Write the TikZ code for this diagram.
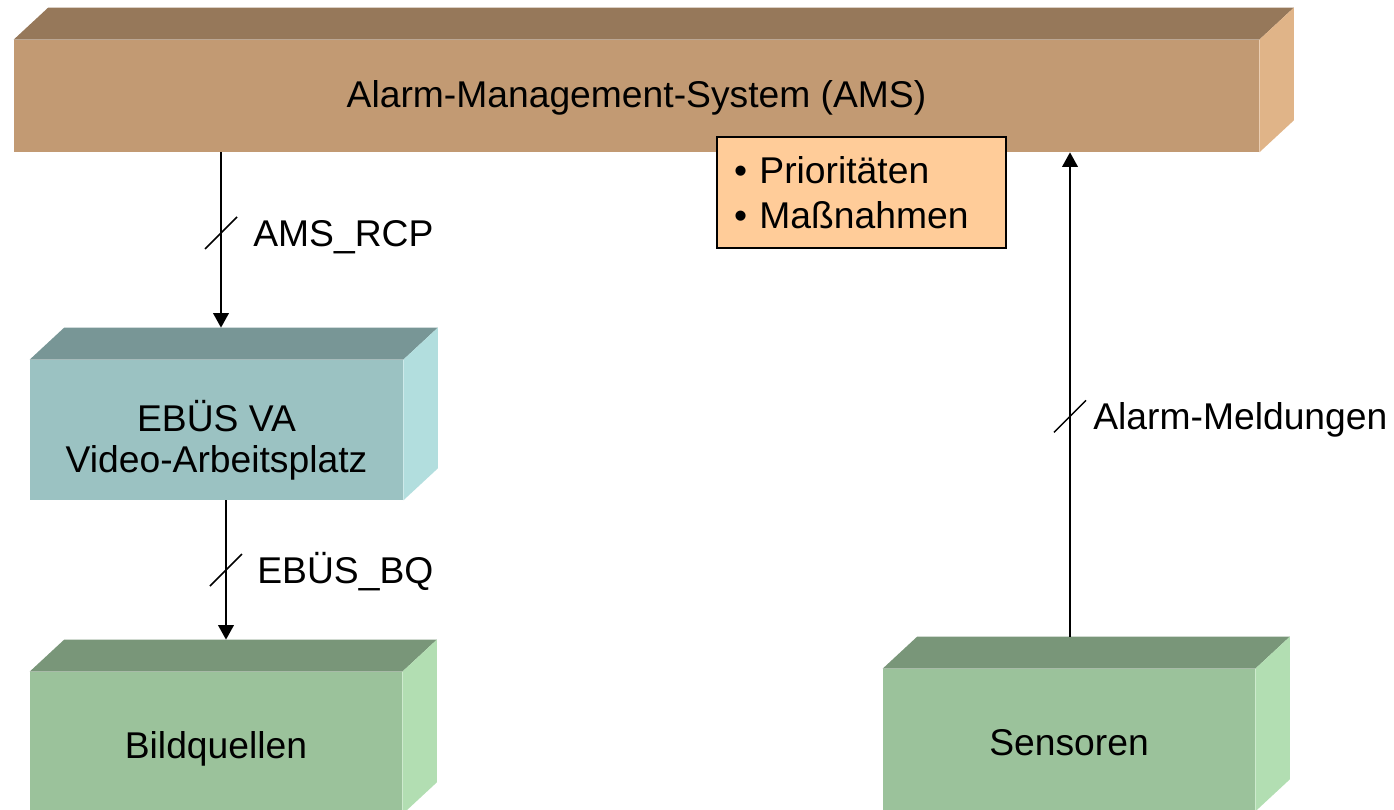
\documentclass[tikz,border=0pt]{standalone}
\usepackage{fontspec}
\setmainfont{Liberation Sans}
\usepackage{xcolor}
\usepackage{tikz}
\usetikzlibrary{positioning,arrows.meta}

\definecolor{amsfront}{RGB}{194,154,115}
\definecolor{amstop}{RGB}{150,120,90}
\definecolor{amsside}{RGB}{224,180,136}
\definecolor{vafront}{RGB}{155,194,194}
\definecolor{vatop}{RGB}{120,150,150}
\definecolor{vaside}{RGB}{178,222,222}
\definecolor{srcfront}{RGB}{155,194,155}
\definecolor{srctop}{RGB}{121,150,121}
\definecolor{srcside}{RGB}{178,222,178}
\definecolor{prio}{RGB}{255,204,153}

% top and side face of a block node
\newcommand{\blockfaces}[3]{%
  \fill[#2] (#1.north west) -- ++(0.69,0.64) -- ([shift={(0.69,0.64)}]#1.north east) -- (#1.north east) -- cycle;
  \fill[#3] (#1.north east) -- ++(0.69,0.64) -- ([shift={(0.69,0.64)}]#1.south east) -- (#1.south east) -- cycle;}

\begin{document}
\begin{tikzpicture}[font=\fontsize{21.2}{22.8}\selectfont,
    block/.style={rectangle, inner sep=0, align=center, text depth=0pt},
    lbl/.style={inner sep=0, text height=0.533cm, text depth=0pt},
    sig/.style={-{Triangle[length=0.29cm,width=0.31cm]}, line width=1.1pt},
    tick/.style={line width=0.85pt}]
            \useasboundingbox (0,0) rectangle (27.88,16.18);

            % AMS bar
            \node[block, text height=0.48cm, fill=amsfront, minimum width=24.9cm, minimum height=2.24cm] (AMS) at (12.73,14.26) {Alarm-Management-System (AMS)};
            \blockfaces{AMS}{amstop}{amsside}

            % Note on the AMS
            \node[draw, line width=1.1pt, fill=prio, minimum height=2.22cm, text width=5.1cm, inner xsep=0.34cm, align=left,
                  font=\fontsize{21.2}{25.6}\selectfont] (Prio) at (17.23,12.33) {• Prioritäten\\• Maßnahmen};

            % Video workstation
            \node[block, text height=1.68cm, fill=vafront, minimum width=7.46cm, minimum height=2.8cm] (VA) at (4.33,7.58) {EBÜS VA\\Video-Arbeitsplatz};
            \blockfaces{VA}{vatop}{vaside}

            % Image sources and sensors
            \node[block, text height=0.6cm, fill=srcfront, minimum width=7.44cm, minimum height=2.84cm] (BQ) at (4.32,1.32) {Bildquellen};
            \blockfaces{BQ}{srctop}{srcside}
            \node[block, text height=0.62cm, fill=srcfront, minimum width=7.44cm, minimum height=2.84cm] (Sens) at (21.38,1.38) {Sensoren};
            \blockfaces{Sens}{srctop}{srcside}

            \coordinate (VAtop) at ([shift={(0.09,0.64)}]VA.north);
            \coordinate (VAout) at ([xshift=0.19cm]VA.south);
            \coordinate (BQtop) at ([shift={(0.2,0.64)}]BQ.north);
            \coordinate (Senstop) at ([shift={(0.02,0.64)}]Sens.north);

            % Arrows
            \draw[sig] (AMS.south -| VAtop) -- coordinate[pos=0.46] (rcp) (VAtop);
            \draw[tick] ([shift={(-0.32,-0.32)}]rcp) -- ([shift={(0.32,0.32)}]rcp);
            \node[lbl, right=0.64cm of rcp] (rcpL) {AMS\_RCP};

            \draw[sig] (VAout) -- coordinate[pos=0.5] (bq) (BQtop);
            \draw[tick] ([shift={(-0.32,-0.32)}]bq) -- ([shift={(0.32,0.32)}]bq);
            \node[lbl, right=0.62cm of bq] (bqL) {EBÜS\_BQ};

            \draw[sig] (Senstop) -- coordinate[pos=0.455] (alm) (AMS.south -| Senstop);
            \draw[tick] ([shift={(-0.32,-0.32)}]alm) -- ([shift={(0.32,0.32)}]alm);
            \node[lbl, right=0.46cm of alm] (almL) {Alarm-Meldungen};

        \end{tikzpicture}
\end{document}
